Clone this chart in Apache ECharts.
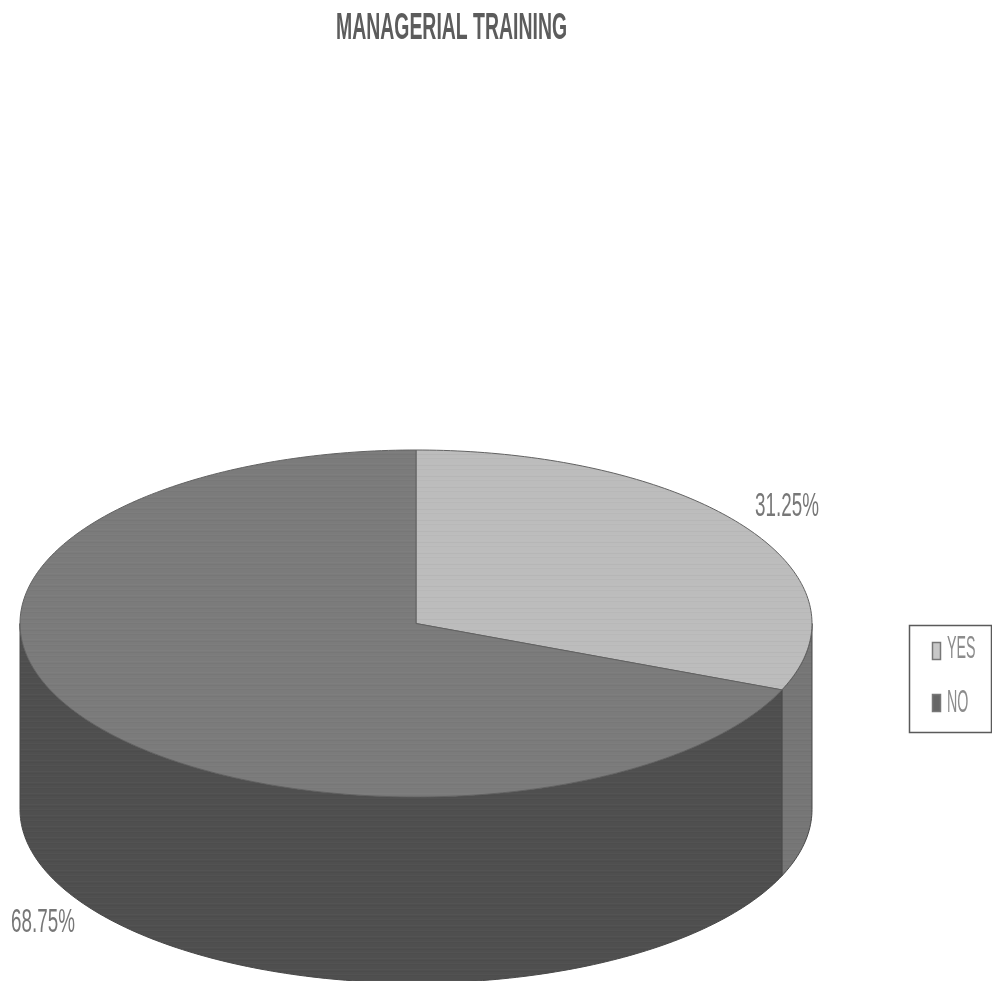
<!DOCTYPE html>
<html><head><meta charset="utf-8">
<style>html,body{margin:0;padding:0;background:#fff}#c{width:992px;height:981px}</style>
<script src="https://cdn.jsdelivr.net/npm/echarts@6/dist/echarts.min.js"></script>
</head><body><div id="c"></div>
<script>
const categories = ['YES', 'NO'];
const values = [31.25, 68.75];
const titleText = 'MANAGERIAL TRAINING';
const topColors = ['#bcbcbc', '#7b7b7b'];
const sideColors = ['#767676', '#4f4f4f'];
const swatchColors = ['#c8c8c8', '#666666'];
const labelPos = [[787, 507], [43, 923]];
const FONT = '"Liberation Sans",sans-serif';
const CX = 416, CY = 623.5, RX = 396, RY = 173.5, DEPTH = 186;
const total = values.reduce((a, b) => a + b, 0);

function scanFill(hex, rows) {
  const c = document.createElement('canvas');
  c.width = 4; c.height = rows.length;
  const g = c.getContext('2d');
  g.fillStyle = hex; g.fillRect(0, 0, 4, rows.length);
  rows.forEach((a, y) => {
    if (a) { g.fillStyle = a > 0 ? 'rgba(255,255,255,' + a + ')' : 'rgba(0,0,0,' + (-a) + ')'; g.fillRect(0, y, 4, 1); }
  });
  return { image: c, repeat: 'repeat' };
}
const scanRows = [0, 0.025, 0, -0.03, 0, 0, 0.02, -0.02, 0, 0, 0];

function pt(deg, dy) {
  const a = deg * Math.PI / 180;
  return [CX + RX * Math.sin(a), CY - RY * Math.cos(a) + (dy || 0)];
}
function arc(from, to, dy) {
  const out = [], n = Math.max(2, Math.ceil(Math.abs(to - from)));
  for (let i = 0; i <= n; i++) out.push(pt(from + (to - from) * i / n, dy));
  return out;
}
function sliceItem(idx) {
  return function (params, api) {
    let before = 0;
    for (let i = 0; i < idx; i++) before += values[i];
    const start = before / total * 360;
    const end = start + api.value(0) / total * 360;
    const children = [];
    const s = Math.max(start, 90), e = Math.min(end, 270);
    if (e > s) {
      children.push({
        type: 'polygon',
        shape: { points: arc(s, e, 0).concat(arc(e, s, DEPTH)) },
        style: { fill: scanFill(sideColors[idx], scanRows), stroke: '#484848', lineWidth: 1 }
      });
    }
    children.push({
      type: 'polygon',
      shape: { points: [[CX, CY]].concat(arc(start, end, 0)) },
      style: { fill: scanFill(topColors[idx], scanRows), stroke: '#626262', lineWidth: 1 }
    });
    children.push({
      type: 'text',
      x: labelPos[idx][0], y: labelPos[idx][1],
      scaleX: 0.57,
      style: {
        text: api.value(0).toFixed(2) + '%',
        fill: '#777', font: '33px ' + FONT,
        align: 'center', verticalAlign: 'middle'
      }
    });
    return { type: 'group', children };
  };
}
const legendRowY = [651, 703];
const legendTextY = [649, 703];
const chart = echarts.init(document.getElementById('c'), null, { renderer: 'canvas' });
chart.setOption({
  animation: false,
  backgroundColor: '#fff',
  graphic: [
    {
      type: 'text', x: 451.5, y: 29.5, scaleX: 0.54,
      style: { text: titleText, font: 'bold 36px ' + FONT, fill: '#5c5c5c', align: 'center', verticalAlign: 'middle' }
    },
    {
      type: 'rect', shape: { x: 909.5, y: 625.5, width: 82, height: 107 },
      style: { fill: '#fff', stroke: '#5a5a5a', lineWidth: 1.5 }
    },
    ...categories.map((name, i) => ({
      type: 'rect', shape: { x: 932.5, y: legendRowY[i] - 8.5, width: 8, height: 17 },
      style: { fill: swatchColors[i], stroke: '#777', lineWidth: 1.5 }
    })),
    ...categories.map((name, i) => ({
      type: 'text', x: 947, y: legendTextY[i], scaleX: 0.46,
      style: { text: name, font: '31px ' + FONT, fill: '#8c8c8c', align: 'left', verticalAlign: 'middle' }
    }))
  ],
  series: categories.map((name, i) => ({
    type: 'custom', name,
    coordinateSystem: 'none',
    data: [[values[i]]],
    renderItem: sliceItem(i)
  }))
});
</script></body></html>
